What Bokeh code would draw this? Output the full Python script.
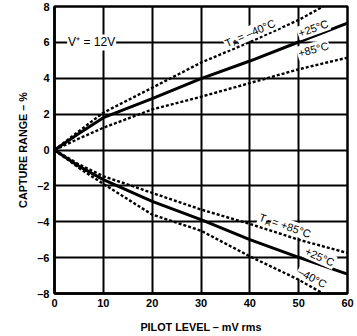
import math
from bokeh.plotting import figure
from bokeh.models import Label, FixedTicker, Range1d
from bokeh.embed import file_html
from bokeh.resources import INLINE

# ---- data ----
x_ticks = [0, 10, 20, 30, 40, 50, 60]
y_ticks = [-8, -6, -4, -2, 0, 2, 4, 6, 8]
y_tick_labels = ["–8", "–6", "–4", "–2", "0", "2", "4", "6", "8"]

pilot_mv = [0, 5, 10, 20, 30, 40, 50, 60]
pilot_mv_m40 = [0, 5, 10, 20, 30, 40, 50, 55]

up_m40 = [0, 1.05, 2.08, 3.47, 4.87, 6.02, 7.25, 8.0]
up_p25 = [0, 0.92, 1.80, 2.86, 3.98, 4.96, 6.02, 7.07]
up_p85 = [0, 0.64, 1.24, 2.26, 2.97, 3.73, 4.50, 5.15]

lo_p85 = [0, -0.80, -1.46, -2.39, -3.32, -4.12, -5.00, -5.74]
lo_p25 = [0, -0.90, -1.65, -2.86, -3.88, -5.00, -5.99, -6.92]
lo_m40 = [0, -1.00, -1.89, -3.60, -4.50, -5.93, -7.23, -8.0]

FONT = "Liberation Sans"
FW, FH = 293, 287

p = figure(frame_width=FW, frame_height=FH, output_backend="svg", toolbar_location=None,
           x_range=Range1d(0, 60), y_range=Range1d(-8, 8),
           min_border_left=54, min_border_right=10, min_border_top=6, min_border_bottom=43)
p.background_fill_color = "white"
p.border_fill_color = "white"
p.outline_line_color = "black"
p.outline_line_width = 2.5

p.xaxis.ticker = FixedTicker(ticks=x_ticks)
p.yaxis.ticker = FixedTicker(ticks=y_ticks)
p.yaxis.major_label_overrides = {t: l for t, l in zip(y_ticks, y_tick_labels)}
for ax in (p.xaxis, p.yaxis):
    ax.major_tick_line_color = None
    ax.minor_tick_line_color = None
    ax.major_tick_out = 0
    ax.major_tick_in = 0
    ax.axis_line_color = "black"
    ax.axis_line_width = 2.5
    ax.major_label_text_font = FONT
    ax.major_label_text_font_style = "bold"
    ax.major_label_text_font_size = "11px"
    ax.major_label_text_color = "black"
    ax.axis_label_text_font = FONT
    ax.axis_label_text_font_style = "bold"
    ax.axis_label_text_font_size = "10.8px"
    ax.axis_label_text_color = "black"
p.xaxis.major_label_standoff = 5
p.yaxis.major_label_standoff = 5
p.xaxis.axis_label = "PILOT LEVEL – mV rms"
p.yaxis.axis_label = "CAPTURE RANGE – %"
p.xaxis.axis_label_standoff = 11
p.yaxis.axis_label_standoff = 5

p.xgrid.ticker = FixedTicker(ticks=x_ticks)
p.ygrid.ticker = FixedTicker(ticks=y_ticks)
for g in (p.xgrid, p.ygrid):
    g.grid_line_color = "black"
    g.grid_line_width = 2
    g.grid_line_alpha = 1.0

DASH = "3 2"
p.line(pilot_mv_m40, up_m40, line_color="black", line_width=2.4, line_dash=DASH)
p.line(pilot_mv, up_p25, line_color="black", line_width=3)
p.line(pilot_mv, up_p85, line_color="black", line_width=2.4, line_dash=DASH)
p.line(pilot_mv, lo_p85, line_color="black", line_width=2.4, line_dash=DASH)
p.line(pilot_mv, lo_p25, line_color="black", line_width=3)
p.line(pilot_mv_m40, lo_m40, line_color="black", line_width=2.4, line_dash=DASH)

# data units per screen pixel
SX = 60.0 / FW
SY = 16.0 / FH


def lab(x, y, text, angle=0, size="11px", align="center",
        baseline="middle", bg=True):
    p.add_layout(Label(x=x, y=y, text=text, angle=angle, angle_units="deg",
                       text_align=align, text_baseline=baseline, text_font=FONT,
                       text_font_size=size, text_color="black",
                       background_fill_color="white" if bg else None,
                       padding=1))


def ta_label(x, y, rest, angle):
    # "T" + subscript "A" + rest, laid along a rotated baseline
    th = math.radians(angle)
    c, s = math.cos(th), math.sin(th)
    lab(x, y, "T", angle, align="left", baseline="alphabetic")
    wt, drop = 7.3, 3.2
    ax_ = x + (wt * c + drop * s) * SX
    ay_ = y + (wt * s - drop * c) * SY
    adv = 13.5
    rx = x + adv * c * SX
    ry = y + adv * s * SY
    lab(rx, ry, rest, angle, align="left", baseline="alphabetic")
    lab(ax_, ay_, "A", angle, size="8px", align="left", baseline="alphabetic", bg=False)


lab(7.6, 6.0, "V⁺ = 12V", 0, size="12px", bg=True)
ta_label(34.8, 5.9, " = –40°C", 23.5)
lab(53.0, 6.79, "+25°C", 20)
lab(53.0, 5.61, "+85°C", 15)
ta_label(41.8, -3.7, " = +85°C", -19)
lab(54.3, -5.95, "+25°C", -24)
lab(52.8, -7.12, "–40°C", -28)

open("out.html", "w").write(file_html(p, INLINE))
